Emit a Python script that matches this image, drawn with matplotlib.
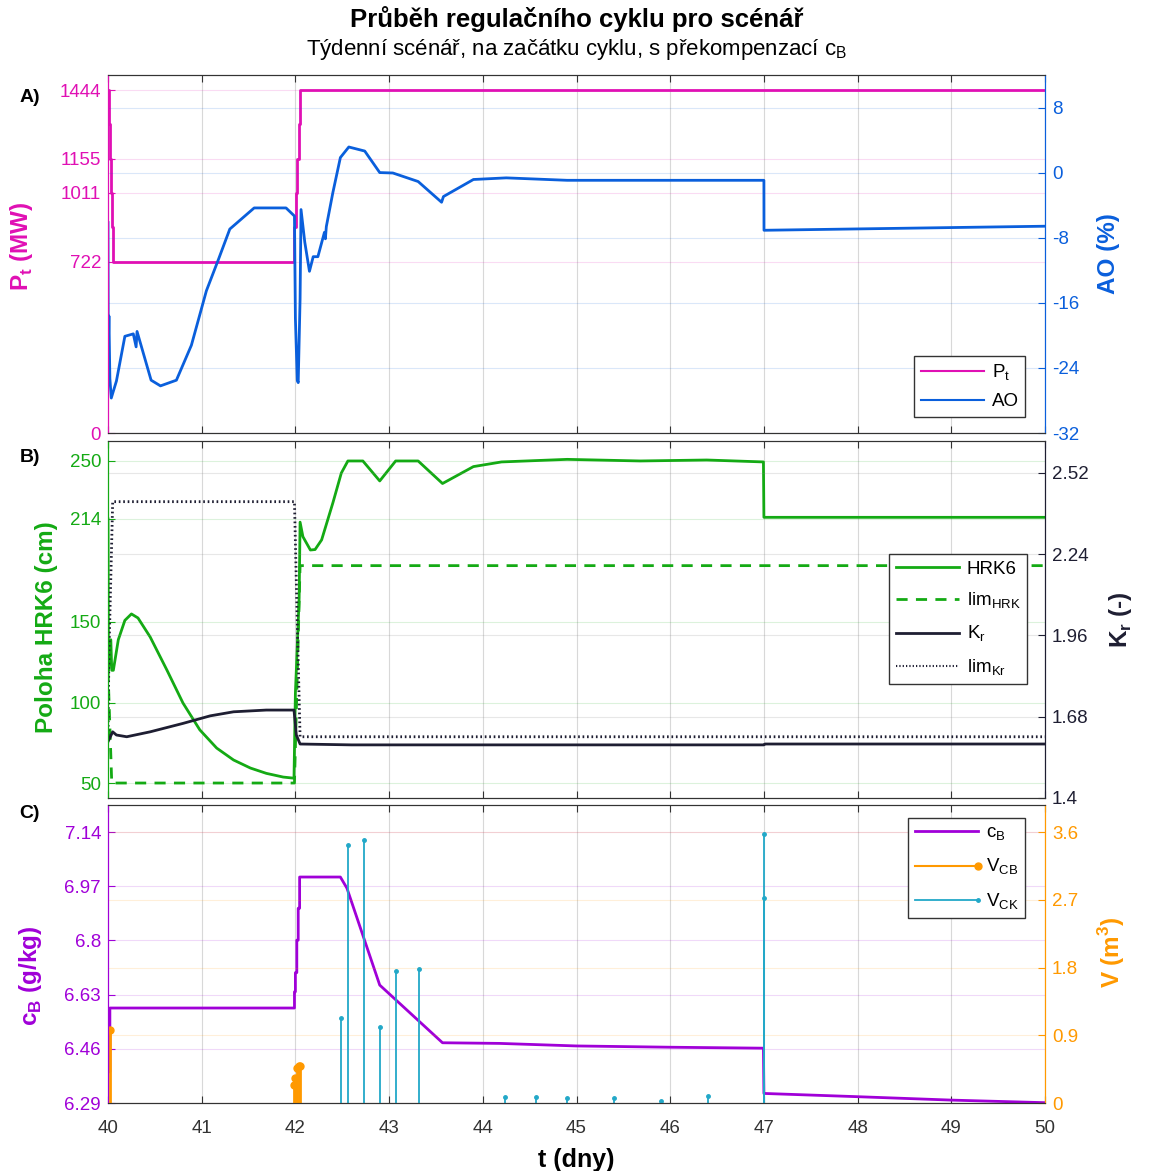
import numpy as np
import matplotlib
matplotlib.use("Agg")
import matplotlib.pyplot as plt
from matplotlib.lines import Line2D
from matplotlib.legend_handler import HandlerLine2D

plt.rcParams['font.family'] = ['Liberation Sans', 'DejaVu Sans']
plt.rcParams['axes.unicode_minus'] = False

# --- data ---
p_t = [40.0, 40.01, 40.02, 40.03, 40.04, 40.05, 41.985, 42.005, 42.02, 42.035, 42.05, 50.0]
p_val = [1444, 1300, 1155, 1011, 866, 722, 866, 1011, 1155, 1300, 1444, 1444]

ao_t = [40.0, 40.003, 40.01, 40.02, 40.035, 40.09, 40.18, 40.27, 40.30, 40.31, 40.46, 40.56,
        40.73, 40.89, 41.05, 41.18, 41.30, 41.56, 41.90, 41.99, 42.0, 42.02, 42.03, 42.05,
        42.06, 42.10, 42.15, 42.19, 42.24, 42.31, 42.32, 42.33, 42.40, 42.48, 42.57, 42.74,
        42.90, 43.04, 43.31, 43.56, 43.58, 43.90, 44.25, 44.90, 47.0, 47.001, 50.0]
ao_val = [-6.1, -22.0, -17.6, -25.3, -27.7, -25.6, -20.1, -19.8, -21.4, -19.5, -25.5, -26.2,
          -25.5, -21.2, -14.5, -10.6, -6.9, -4.3, -4.3, -5.3, -17.9, -25.5, -25.8, -15.5,
          -4.5, -8.5, -12.1, -10.3, -10.3, -7.3, -8.1, -6.6, -2.4, 1.9, 3.2, 2.7,
          0.05, 0.0, -1.05, -3.6, -2.9, -0.8, -0.6, -0.9, -0.9, -7.05, -6.55]

hrk_t = [40.0, 40.005, 40.03, 40.04, 40.057, 40.11, 40.18, 40.25, 40.32, 40.45, 40.63, 40.80,
         40.98, 41.16, 41.34, 41.52, 41.69, 41.87, 41.985, 42.0, 42.01, 42.04, 42.05, 42.08,
         42.16, 42.21, 42.28, 42.40, 42.49, 42.56, 42.72, 42.90, 43.07, 43.31, 43.57, 43.90,
         44.20, 44.90, 45.68, 46.39, 46.995, 47.0, 50.0]
hrk_val = [214, 120, 139, 120, 120, 139, 151, 155, 152.5, 140.7, 120, 99.7,
           83, 71.7, 64.3, 59.3, 56, 53.7, 53, 106, 120, 165, 212, 203,
           194.7, 195, 201, 224, 242.5, 250, 250, 237.6, 250, 250, 236, 246.5,
           249.4, 251, 250, 250.6, 249.4, 215, 215]

lim_hrk_t = [40.0, 40.04, 41.99, 42.05, 50.0]
lim_hrk_val = [120, 50, 50, 185, 185]

kr_t = [40.0, 40.05, 40.09, 40.2, 40.45, 40.8, 41.09, 41.34, 41.69, 41.985, 42.01, 42.05,
        42.6, 47.0, 47.01, 50.0]
kr_val = [1.594, 1.628, 1.617, 1.611, 1.628, 1.657, 1.683, 1.697, 1.703, 1.703, 1.617, 1.586,
          1.583, 1.583, 1.586, 1.586]

lim_kr_t = [40.0, 40.01, 40.05, 41.99, 42.02, 42.05, 50.0]
lim_kr_val = [1.60, 1.90, 2.421, 2.421, 2.0, 1.611, 1.611]

cb_t = [40.0, 40.02, 40.02, 41.99, 41.99, 42.0, 42.0, 42.015, 42.015, 42.03, 42.03, 42.045,
        42.045, 42.48, 42.55, 42.90, 43.57, 44.18, 45.0, 46.0, 46.995, 47.0, 47.98, 49.01, 50.0]
cb_val = [6.388, 6.388, 6.588, 6.588, 6.639, 6.639, 6.699, 6.699, 6.801, 6.801, 6.901, 6.901,
          6.999, 6.999, 6.964, 6.660, 6.479, 6.477, 6.469, 6.465, 6.462, 6.320, 6.310, 6.299, 6.291]

vcb_t = [40.02, 41.99, 42.0, 42.02, 42.035, 42.05]
vcb_val = [0.97, 0.24, 0.33, 0.46, 0.49, 0.49]

vck_t = [42.483, 42.565, 42.73, 42.90, 43.07, 43.32, 44.24, 44.57, 44.90, 45.40, 45.90, 46.40, 47.0, 47.0]
vck_val = [1.125, 3.43, 3.49, 1.006, 1.757, 1.78, 0.084, 0.084, 0.063, 0.063, 0.027, 0.093, 3.57, 2.73]

c_p = '#E010B4'
c_ao = '#0A5FDC'
c_h = '#14AA14'
c_kr = '#1E1E32'
c_cb = '#A000D8'
c_v = '#FF9900'
c_ck = '#22A8C8'

TICK = 13.5
LAB = 17.5


class EndDot(HandlerLine2D):
    def create_artists(self, *args, **kwargs):
        arts = super().create_artists(*args, **kwargs)
        for a in arts:
            a.set_markevery([2])
        return arts


W, H = 1149, 1171
fig = plt.figure(figsize=(W / 100, H / 100), dpi=100)


def make_ax(top, bottom):
    return fig.add_axes([108 / W, 1 - bottom / H, (1045 - 108) / W, (bottom - top) / H])


def style(ax, ax2, cl, cr):
    ax.set_xlim(40, 50)
    ax.set_xticks(range(40, 51))
    ax.grid(axis='x', color='#d8d8d8', lw=0.8)
    ax.grid(axis='y', color=cl, alpha=0.15, lw=0.8)
    ax2.grid(axis='y', color=cr, alpha=0.15, lw=0.8)
    ax.tick_params(direction='in', length=5, labelsize=TICK, top=True, pad=5)
    ax.tick_params(axis='x', pad=12)
    ax.tick_params(axis='y', colors=cl, labelcolor=cl)
    ax.tick_params(axis='x', colors='#333333')
    ax2.tick_params(direction='in', length=5, labelsize=TICK, colors=cr, labelcolor=cr, pad=5)
    for a in (ax, ax2):
        a.spines['top'].set_color('#333333')
        a.spines['bottom'].set_color('#333333')
        a.spines['left'].set_color(cl)
        a.spines['right'].set_color(cr)
    ax.set_axisbelow(True)


leg_kw = dict(fontsize=13.5, handlelength=3.4, fancybox=False, edgecolor='#333333',
              framealpha=1, borderpad=0.35, handletextpad=0.4, borderaxespad=0)

# --- A) ---
axA = make_ax(75, 433)
axA2 = axA.twinx()
axA.plot(p_t, p_val, color=c_p, lw=2, drawstyle='steps-post')
axA2.plot(ao_t, ao_val, color=c_ao, lw=2)
axA.set_ylim(0, 1508)
axA.set_yticks([0, 722, 1011, 1155, 1444])
axA2.set_ylim(-32, 12.06)
axA2.set_yticks([-32, -24, -16, -8, 0, 8])
style(axA, axA2, c_p, c_ao)
axA.tick_params(labelbottom=False)
axA.set_ylabel('P$_\\mathregular{t}$ (MW)', color=c_p, fontsize=LAB, fontweight='bold')
axA.yaxis.set_label_coords(-0.078, 0.522)
axA2.set_ylabel('AO (%)', color=c_ao, fontsize=LAB, fontweight='bold')
axA2.yaxis.set_label_coords(1.055, 0.5)
hA = [Line2D([], [], color=c_p, lw=1.5), Line2D([], [], color=c_ao, lw=1.5)]
axA2.legend(hA, ['P$_\\mathregular{t}$', 'AO'], loc='lower right', bbox_to_anchor=(0.979, 0.045),
            labelspacing=0.55, **leg_kw)

# --- B) ---
axB = make_ax(441, 798)
axB2 = axB.twinx()
axB.plot(lim_hrk_t, lim_hrk_val, color=c_h, lw=2, ls=(0, (4, 3)))
axB.plot(hrk_t, hrk_val, color=c_h, lw=2)
axB2.plot(lim_kr_t, lim_kr_val, color=c_kr, lw=2, ls=(0, (0.6, 1)))
axB2.plot(kr_t, kr_val, color=c_kr, lw=2)
axB.set_ylim(40.7, 262.4)
axB.set_yticks([50, 100, 150, 214, 250])
axB2.set_ylim(1.4, 2.63)
axB2.set_yticks([1.4, 1.68, 1.96, 2.24, 2.52])
axB2.set_yticklabels(['1.4', '1.68', '1.96', '2.24', '2.52'])
style(axB, axB2, c_h, c_kr)
axB2.grid(axis='y', color='#888888', alpha=0.2, lw=0.8)
axB.tick_params(labelbottom=False)
axB.set_ylabel('Poloha HRK6 (cm)', color=c_h, fontsize=LAB, fontweight='bold')
axB.yaxis.set_label_coords(-0.053, 0.48)
axB2.set_ylabel('K$_\\mathregular{r}$ (-)', color=c_kr, fontsize=LAB, fontweight='bold')
axB2.yaxis.set_label_coords(1.066, 0.5)
hB = [Line2D([], [], color=c_h, lw=2), Line2D([], [], color=c_h, lw=2, ls=(0, (4, 3))),
      Line2D([], [], color=c_kr, lw=2), Line2D([], [], color=c_kr, lw=1.5, ls=(0, (0.6, 1)))]
axB2.legend(hB, ['HRK6', 'lim$_\\mathregular{HRK}$', 'K$_\\mathregular{r}$', 'lim$_\\mathregular{Kr}$'],
            loc='center right', bbox_to_anchor=(0.981, 0.501), labelspacing=0.7, **leg_kw)

# --- C) ---
axC = make_ax(805, 1103)
axC2 = axC.twinx()
axC.plot(cb_t, cb_val, color=c_cb, lw=2)
axC2.vlines(vck_t, 0, vck_val, color=c_ck, lw=1.3)
axC2.plot(vck_t, vck_val, 'o', color=c_ck, ms=2.5)
axC2.vlines(vcb_t, 0, vcb_val, color=c_v, lw=2)
axC2.plot(vcb_t, vcb_val, 'o', color=c_v, ms=5)
axC.set_ylim(6.29, 7.225)
axC.set_yticks([6.29, 6.46, 6.63, 6.8, 6.97, 7.14])
axC.set_yticklabels(['6.29', '6.46', '6.63', '6.8', '6.97', '7.14'])
axC2.set_ylim(0, 3.96)
axC2.set_yticks([0, 0.9, 1.8, 2.7, 3.6])
axC2.set_yticklabels(['0', '0.9', '1.8', '2.7', '3.6'])
style(axC, axC2, c_cb, c_v)
axC.set_xlabel('t (dny)', fontsize=18, fontweight='bold', labelpad=8)
axC.set_ylabel('c$_\\mathregular{B}$ (g/kg)', color=c_cb, fontsize=LAB, fontweight='bold')
axC.yaxis.set_label_coords(-0.068, 0.426)
axC2.set_ylabel('V (m$^\\mathregular{3}$)', color=c_v, fontsize=LAB, fontweight='bold')
axC2.yaxis.set_label_coords(1.055, 0.507)
hC = [Line2D([], [], color=c_cb, lw=2),
      Line2D([], [], color=c_v, lw=1.5, marker='o', ms=5),
      Line2D([], [], color=c_ck, lw=1.3, marker='o', ms=2.5)]
axC2.legend(hC, ['c$_\\mathregular{B}$', 'V$_\\mathregular{CB}$', 'V$_\\mathregular{CK}$'],
            loc='upper right', bbox_to_anchor=(0.979, 0.956), labelspacing=0.75,
            handler_map={hC[1]: EndDot(), hC[2]: EndDot()}, **leg_kw)

# --- titles / panel labels ---
fig.text(0.502, 1 - 19 / H, 'Průběh regulačního cyklu pro scénář', ha='center', va='center',
         fontsize=18.5, fontweight='bold')
fig.text(0.502, 1 - 50 / H, 'Týdenní scénář, na začátku cyklu, s překompenzací c$_\\mathregular{B}$',
         ha='center', va='center', fontsize=16)
for lab, y in [('A)', 97), ('B)', 457), ('C)', 813)]:
    fig.text(30 / W, 1 - y / H, lab, ha='center', va='center', fontsize=14, fontweight='bold')

fig.savefig('out.png', dpi=100)
